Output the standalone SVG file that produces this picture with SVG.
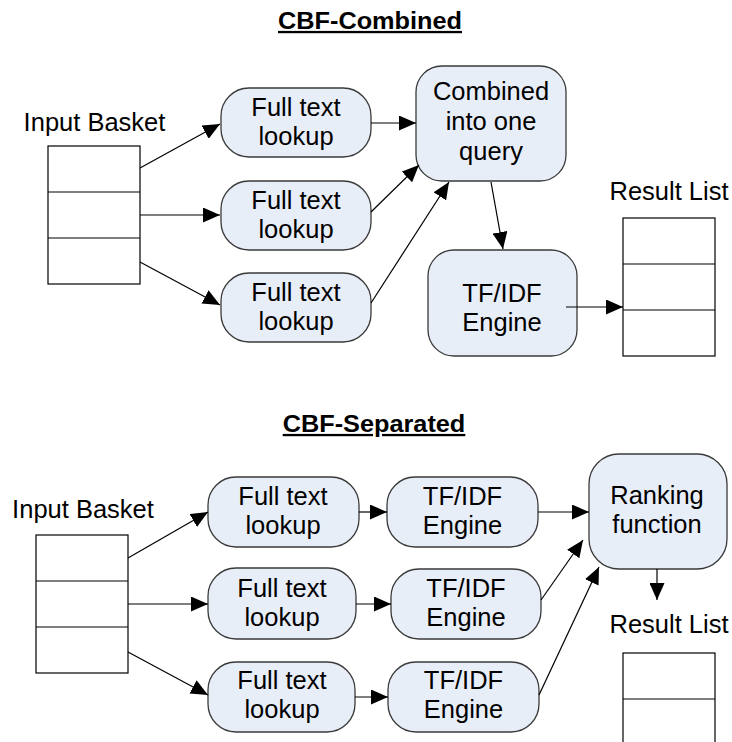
<svg xmlns="http://www.w3.org/2000/svg" width="732" height="742" viewBox="0 0 732 742">
<defs>
<style>
.t{font-family:"Liberation Sans",Arial,sans-serif;font-size:25px;fill:#000;text-anchor:middle}
.h{font-family:"Liberation Sans",Arial,sans-serif;font-size:23px;font-weight:bold;fill:#000;text-anchor:middle;text-decoration:underline}
.node{fill:#E8EEF8;stroke:#3a3a3a;stroke-width:1.3}
.box{fill:#fff;stroke:#000;stroke-width:1.2}
.div{stroke:#000;stroke-width:1.2}
.c{stroke:#000;stroke-width:1.2;fill:none;marker-end:url(#ah)}
</style>
<marker id="ah" markerUnits="userSpaceOnUse" viewBox="0 0 17 15" markerWidth="17" markerHeight="15" refX="17" refY="7.5" orient="auto">
<path d="M0,0 L17,7.5 L0,15 z" fill="#000"/>
</marker>
</defs>
<rect width="732" height="742" fill="#fff"/>

<text class="h" transform="translate(370,29) scale(1.1,1)">CBF-Combined</text>
<text class="h" transform="translate(374,432) scale(1.1,1)">CBF-Separated</text>

<g id="input-basket-1">
<text class="t" transform="translate(94.5,131) scale(1.02,1)">Input Basket</text>
<rect class="box" x="48" y="146" width="92" height="138"/>
<line class="div" x1="48" y1="192" x2="140" y2="192"/>
<line class="div" x1="48" y1="238" x2="140" y2="238"/>
</g>
<g id="ftl-1a">
<rect class="node" x="221" y="88" width="150" height="69" rx="28"/>
<text class="t" transform="translate(296,116) scale(1.02,1)">Full text</text>
<text class="t" transform="translate(296,145) scale(1.02,1)">lookup</text>
</g>
<g id="ftl-1b">
<rect class="node" x="221" y="181" width="150" height="69" rx="28"/>
<text class="t" transform="translate(296,209) scale(1.02,1)">Full text</text>
<text class="t" transform="translate(296,238) scale(1.02,1)">lookup</text>
</g>
<g id="ftl-1c">
<rect class="node" x="221" y="273" width="150" height="69" rx="28"/>
<text class="t" transform="translate(296,301) scale(1.02,1)">Full text</text>
<text class="t" transform="translate(296,330) scale(1.02,1)">lookup</text>
</g>
<g id="combined">
<rect class="node" x="416" y="66" width="150" height="115" rx="26"/>
<text class="t" transform="translate(491,100) scale(1.02,1)">Combined</text>
<text class="t" transform="translate(491,130) scale(1.02,1)">into one</text>
<text class="t" transform="translate(491,160) scale(1.02,1)">query</text>
</g>
<g id="tfidf-1">
<rect class="node" x="428" y="250" width="149" height="106" rx="26"/>
<text class="t" transform="translate(502,302) scale(1.02,1)">TF/IDF</text>
<text class="t" transform="translate(502,331) scale(1.02,1)">Engine</text>
</g>
<g id="result-list-1">
<text class="t" transform="translate(669,200) scale(1.02,1)">Result List</text>
<rect class="box" x="623" y="218" width="92" height="138"/>
<line class="div" x1="623" y1="264" x2="715" y2="264"/>
<line class="div" x1="623" y1="310" x2="715" y2="310"/>
</g>

<g id="input-basket-2">
<text class="t" transform="translate(83,518) scale(1.02,1)">Input Basket</text>
<rect class="box" x="36" y="535" width="92" height="138"/>
<line class="div" x1="36" y1="581" x2="128" y2="581"/>
<line class="div" x1="36" y1="627" x2="128" y2="627"/>
</g>
<g id="ftl-2a">
<rect class="node" x="208" y="477" width="151" height="70" rx="28"/>
<text class="t" transform="translate(283,505) scale(1.02,1)">Full text</text>
<text class="t" transform="translate(283,534) scale(1.02,1)">lookup</text>
</g>
<g id="ftl-2b">
<rect class="node" x="208" y="568" width="148" height="71" rx="28"/>
<text class="t" transform="translate(282,597) scale(1.02,1)">Full text</text>
<text class="t" transform="translate(282,626) scale(1.02,1)">lookup</text>
</g>
<g id="ftl-2c">
<rect class="node" x="208" y="662" width="147" height="70" rx="28"/>
<text class="t" transform="translate(282,689) scale(1.02,1)">Full text</text>
<text class="t" transform="translate(282,718) scale(1.02,1)">lookup</text>
</g>
<g id="tfidf-2a">
<rect class="node" x="387" y="477" width="151" height="70" rx="28"/>
<text class="t" transform="translate(462.5,505) scale(1.02,1)">TF/IDF</text>
<text class="t" transform="translate(462.5,534) scale(1.02,1)">Engine</text>
</g>
<g id="tfidf-2b">
<rect class="node" x="391" y="569" width="150" height="70" rx="28"/>
<text class="t" transform="translate(466,597) scale(1.02,1)">TF/IDF</text>
<text class="t" transform="translate(466,626) scale(1.02,1)">Engine</text>
</g>
<g id="tfidf-2c">
<rect class="node" x="388" y="662" width="151" height="70" rx="28"/>
<text class="t" transform="translate(463.5,689) scale(1.02,1)">TF/IDF</text>
<text class="t" transform="translate(463.5,718) scale(1.02,1)">Engine</text>
</g>
<g id="ranking">
<rect class="node" x="589" y="454" width="138" height="115" rx="30"/>
<text class="t" transform="translate(657,504) scale(1.02,1)">Ranking</text>
<text class="t" transform="translate(657,533) scale(1.02,1)">function</text>
</g>
<g id="result-list-2">
<text class="t" transform="translate(669,633) scale(1.02,1)">Result List</text>
<rect class="box" x="623" y="653" width="92" height="138"/>
<line class="div" x1="623" y1="699" x2="715" y2="699"/>
</g>

<g id="connectors">
<line class="c" x1="140" y1="168" x2="220" y2="124"/>
<line class="c" x1="140" y1="215" x2="220" y2="215"/>
<line class="c" x1="140" y1="262" x2="220" y2="305"/>
<line class="c" x1="371" y1="123" x2="416" y2="123"/>
<line class="c" x1="371" y1="212" x2="419" y2="165"/>
<line class="c" x1="371" y1="303" x2="449" y2="182"/>
<line class="c" x1="491" y1="182" x2="503" y2="249"/>
<line class="c" x1="566" y1="307" x2="623" y2="307"/>

<line class="c" x1="128" y1="558" x2="208" y2="512"/>
<line class="c" x1="128" y1="604" x2="208" y2="604"/>
<line class="c" x1="128" y1="652" x2="208" y2="695"/>
<line class="c" x1="359" y1="512" x2="387" y2="512"/>
<line class="c" x1="356" y1="604" x2="391" y2="604"/>
<line class="c" x1="355" y1="697" x2="388" y2="697"/>
<line class="c" x1="538" y1="512" x2="589" y2="512"/>
<line class="c" x1="541" y1="600" x2="583" y2="540"/>
<line class="c" x1="539" y1="695" x2="599" y2="567"/>
<line class="c" x1="657" y1="569" x2="657" y2="600"/>
</g>
</svg>
